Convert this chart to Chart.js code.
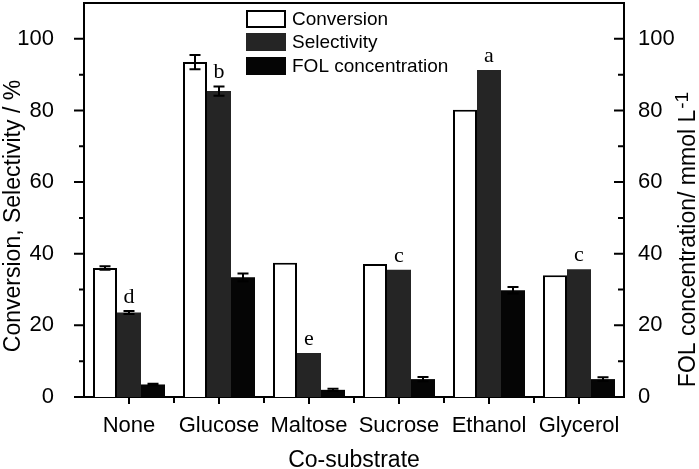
<!DOCTYPE html>
<html lang="en">
<head>
  <meta charset="UTF-8" />
  <title>Co-substrate effect</title>
  <script src="https://cdn.jsdelivr.net/npm/chart.js"></script>
  <style>
    html, body { margin: 0; padding: 0; background: #fff; }
    #wrap { width: 699px; height: 469px; }
  </style>
</head>
<body>
  <div id="wrap"><canvas id="chart" width="699" height="469"></canvas></div>

  <script>
    const categories = ["None", "Glucose", "Maltose", "Sucrose", "Ethanol", "Glycerol"];
    const conversion = [36.0, 93.5, 37.5, 37.1, 80.2, 34.0];
    const conversionErr = [0.5, 2.0, 0, 0, 0, 0];
    const selectivity = [23.6, 85.4, 12.3, 35.5, 91.3, 35.7];
    const selectivityErr = [0.4, 1.3, 0, 0, 0, 0];
    const folConc = [3.5, 33.4, 2.0, 5.0, 29.8, 5.0];
    const folErr = [0.2, 1.1, 0.3, 0.6, 0.9, 0.5];
    const letters = ["d", "b", "e", "c", "a", "c"];
    const leftTicks = [0, 20, 40, 60, 80, 100];
    const rightTicks = [0, 20, 40, 60, 80, 100];

    const sans = "'Liberation Sans', Arial, sans-serif";
    const serif = "'Liberation Serif', 'Times New Roman', serif";

    // error bars, letters, minor ticks, titles and legend
    const extras = {
      id: "extras",
      afterDatasetsDraw(chart) {
        const ctx = chart.ctx;
        const errs = [conversionErr, selectivityErr, folErr];
        ctx.save();
        ctx.strokeStyle = "#000";
        ctx.lineWidth = 2;
        chart.data.datasets.forEach((ds, i) => {
          const meta = chart.getDatasetMeta(i);
          const sc = chart.scales[ds.yAxisID];
          meta.data.forEach((bar, j) => {
            const e = errs[i][j];
            if (!e) return;
            const v = ds.data[j];
            const yt = sc.getPixelForValue(v + e);
            const yb = sc.getPixelForValue(v - e);
            ctx.beginPath();
            ctx.moveTo(bar.x, yt); ctx.lineTo(bar.x, yb);
            ctx.moveTo(bar.x - 5.5, yt); ctx.lineTo(bar.x + 5.5, yt);
            ctx.moveTo(bar.x - 5.5, yb); ctx.lineTo(bar.x + 5.5, yb);
            ctx.stroke();
          });
        });
        // letters above the selectivity bars
        const meta = chart.getDatasetMeta(1);
        const sc = chart.scales.y;
        ctx.fillStyle = "#000";
        ctx.font = "22px " + serif;
        ctx.textAlign = "center";
        ctx.textBaseline = "alphabetic";
        meta.data.forEach((bar, j) => {
          const top = sc.getPixelForValue(selectivity[j] + selectivityErr[j]);
          ctx.fillText(letters[j], bar.x, top - 8);
        });
        ctx.restore();
      },
      afterDraw(chart) {
        const ctx = chart.ctx;
        const a = chart.chartArea;
        const y = chart.scales.y, y1 = chart.scales.y1, x = chart.scales.x;
        ctx.save();
        ctx.strokeStyle = "#000";
        ctx.lineWidth = 2;
        ctx.beginPath();
        ctx.moveTo(a.left - 1, a.top); ctx.lineTo(a.right + 1, a.top);
        for (let v = 0; v <= 100; v += 10) {
          const p = y.getPixelForValue(v);
          const len = v % 20 === 0 ? 10 : 5;
          ctx.moveTo(a.left, p); ctx.lineTo(a.left - len, p);
        }
        for (let v = 0; v <= 100; v += 10) {
          const p = y1.getPixelForValue(v);
          const len = v % 20 === 0 ? 10 : 6;
          ctx.moveTo(a.right, p); ctx.lineTo(a.right - len, p);
        }
        const w = (a.right - a.left) / categories.length;
        for (let i = 0; i < categories.length; i++) {
          const c = x.getPixelForValue(i);
          ctx.moveTo(c, a.bottom); ctx.lineTo(c, a.bottom + 7);
          if (i > 0) {
            ctx.moveTo(c - w / 2, a.bottom); ctx.lineTo(c - w / 2, a.bottom + 6);
          }
        }
        ctx.stroke();

        ctx.fillStyle = "#000";
        ctx.textBaseline = "alphabetic";
        ctx.textAlign = "center";
        ctx.font = "23px " + sans;
        ctx.fillText("Co-substrate", (a.left + a.right) / 2, 467);

        ctx.save();
        ctx.translate(20, 216);
        ctx.rotate(-Math.PI / 2);
        ctx.fillText("Conversion, Selectivity / %", 0, 0);
        ctx.restore();

        ctx.save();
        ctx.translate(695, 240);
        ctx.rotate(-Math.PI / 2);
        const main = "FOL concentration/ mmol L";
        const sup = "-1";
        ctx.font = "23px " + sans;
        const mw = ctx.measureText(main).width;
        ctx.font = "19px " + sans;
        const sw = ctx.measureText(sup).width;
        const start = -(mw + sw) / 2;
        ctx.textAlign = "left";
        ctx.font = "23px " + sans;
        ctx.fillText(main, start, 0);
        ctx.font = "19px " + sans;
        ctx.fillText(sup, start + mw + 1, -7);
        ctx.restore();

        // legend
        const lx = 246, ly = [10, 33, 57];
        ctx.font = "19px " + sans;
        ctx.textAlign = "left";
        ctx.textBaseline = "middle";
        chart.data.datasets.forEach((ds, i) => {
          ctx.fillStyle = ds.backgroundColor;
          ctx.fillRect(lx, ly[i], 40, 18);
          if (ds.borderWidth) {
            ctx.strokeStyle = "#000";
            ctx.lineWidth = 2;
            ctx.strokeRect(lx + 1, ly[i] + 1, 38, 16);
          }
          ctx.fillStyle = "#000";
          ctx.fillText(ds.label, lx + 46, ly[i] + 10);
        });
        ctx.restore();
      }
    };

    new Chart(document.getElementById("chart"), {
      type: "bar",
      data: {
        labels: categories,
        datasets: [
          { label: "Conversion", data: conversion, yAxisID: "y",
            backgroundColor: "#ffffff", borderColor: "#000000", borderWidth: 2 },
          { label: "Selectivity", data: selectivity, yAxisID: "y",
            backgroundColor: "#252525", borderWidth: 0 },
          { label: "FOL concentration", data: folConc, yAxisID: "y1",
            backgroundColor: "#050505", borderWidth: 0 }
        ]
      },
      options: {
        responsive: false,
        animation: false,
        layout: { padding: { top: 3 } },
        datasets: { bar: { categoryPercentage: 0.8, barPercentage: 1.0 } },
        plugins: { legend: { display: false }, tooltip: { enabled: false } },
        scales: {
          x: {
            grid: { display: false },
            border: { color: "#000", width: 2 },
            ticks: { color: "#000", font: { family: sans, size: 22 }, padding: 8, maxRotation: 0 },
            afterFit(s) { s.height = 72; s.paddingLeft = 0; s.paddingRight = 0; }
          },
          y: {
            position: "left",
            min: 0, max: 110,
            grid: { display: false },
            border: { color: "#000", width: 2 },
            afterBuildTicks(s) { s.ticks = leftTicks.map(v => ({ value: v })); },
            ticks: { color: "#000", font: { family: sans, size: 22 }, padding: 22 },
            afterFit(s) { s.width = 84; s.paddingTop = 0; s.paddingBottom = 0; }
          },
          y1: {
            position: "right",
            min: 0, max: 110,
            grid: { display: false },
            border: { color: "#000", width: 2 },
            afterBuildTicks(s) { s.ticks = rightTicks.map(v => ({ value: v })); },
            ticks: { color: "#000", font: { family: sans, size: 22 }, padding: 6 },
            afterFit(s) { s.width = 75; s.paddingTop = 0; s.paddingBottom = 0; }
          }
        }
      },
      plugins: [extras]
    });
  </script>
</body>
</html>
